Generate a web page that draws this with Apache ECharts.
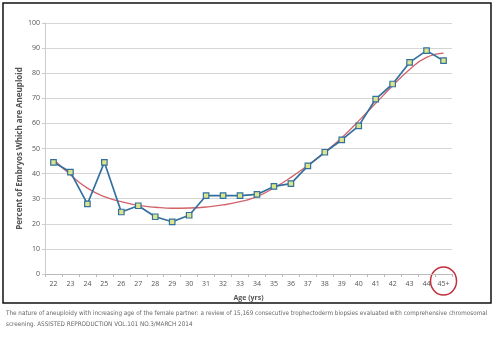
<!DOCTYPE html>
<html><head><meta charset="utf-8">
<script src="https://cdn.jsdelivr.net/npm/echarts@6/dist/echarts.min.js"></script>
<style>html,body{margin:0;padding:0;background:#fff}#c{width:499px;height:341px}</style>
</head><body><div id="c"></div>
<script>
const categories = ['22','23','24','25','26','27','28','29','30','31','32','33','34','35','36','37','38','39','40','41','42','43','44','45+'];
const aneuploidPct = [44.5,40.6,27.9,44.5,24.7,27.2,22.8,20.8,23.4,31.2,31.2,31.2,31.7,34.9,36.0,43.1,48.5,53.4,59.0,69.7,75.7,84.3,89.0,85.0];
const trendPct = [45.7,39.5,34.2,30.8,28.8,27.3,26.6,26.2,26.3,26.7,27.5,28.8,30.8,34.3,38.5,43.3,48.5,54.3,61.0,68.0,75.0,81.5,86.3,88.0];
const yTicks = [0,10,20,30,40,50,60,70,80,90,100];

const chart = echarts.init(document.getElementById('c'), null, {renderer:'canvas'});
const option = {
  animation:false,
  backgroundColor:'#fff',
  grid:{left:45,right:47,top:23,bottom:67},
  xAxis:{type:'category',data:categories,boundaryGap:true,
    name:'Age (yrs)',nameLocation:'middle',nameGap:20,
    nameTextStyle:{fontFamily:'Open Sans',fontWeight:'bold',fontSize:7,color:'#555'},
    axisLine:{lineStyle:{color:'#bbb',width:1}},
    axisTick:{show:true,length:3,lineStyle:{color:'#bbb'}},
    axisLabel:{fontFamily:'Open Sans',fontSize:7,color:'#555',margin:6}},
  yAxis:{type:'value',min:yTicks[0],max:yTicks[yTicks.length-1],interval:10,
    name:'Percent of Embryos Which are Aneuploid',nameLocation:'middle',nameGap:21,nameRotate:90,
    nameMoveOverlap:false,
    nameTextStyle:{fontFamily:'Open Sans',fontWeight:'bold',fontSize:8,color:'#555'},
    axisLine:{show:true,lineStyle:{color:'#ccc'}},
    axisTick:{show:true,length:3,lineStyle:{color:'#ccc'}},
    splitLine:{lineStyle:{color:'#d6d6d6',width:1}},
    axisLabel:{fontFamily:'Open Sans',fontSize:7,color:'#555',margin:5}},
  series:[
    {type:'line',data:trendPct,smooth:true,showSymbol:false,symbol:'none',
      lineStyle:{color:'#d2636a',width:1.3},z:3},
    {type:'line',data:aneuploidPct,symbol:'rect',symbolSize:5.5,
      lineStyle:{color:'#33709f',width:1.7},
      itemStyle:{color:'#dbe68a',borderColor:'#33709f',borderWidth:1.2},z:4}
  ]
};
chart.setOption(option);
const p = chart.convertToPixel({xAxisIndex:0,yAxisIndex:0},['45+',0]);
chart.setOption({graphic:[
  {type:'rect',shape:{x:3,y:3,width:488,height:300},style:{fill:'none',stroke:'#111',lineWidth:1.5},silent:true},
  {type:'ellipse',shape:{cx:p[0],cy:p[1]+7,rx:13,ry:14},style:{fill:'none',stroke:'#c0303a',lineWidth:1.5},silent:true},
  {type:'text',left:6,top:310,style:{text:'The nature of aneuploidy with increasing age of the female partner: a review of 15,169 consecutive trophectoderm biopsies evaluated with comprehensive chromosomal',fontFamily:'DejaVu Sans Condensed, Liberation Sans',fontSize:6.3,fill:'#666'}},
  {type:'text',left:6,top:321,style:{text:'screening. ASSISTED REPRODUCTION VOL.101 NO.3/MARCH 2014',fontFamily:'DejaVu Sans Condensed, Liberation Sans',fontSize:6.3,fill:'#666'}}
]});
</script></body></html>
